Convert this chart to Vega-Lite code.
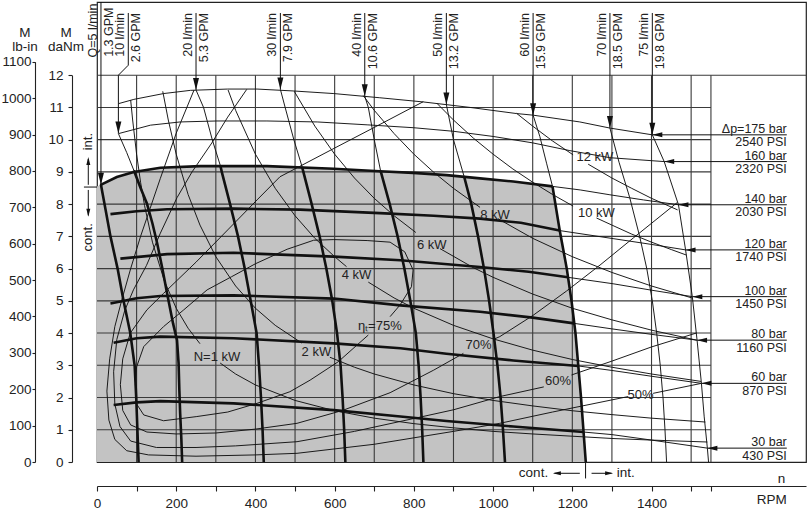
{
"$schema":"https://vega.github.io/schema/vega-lite/v6.json",
"width":709,"height":460,
"autosize":{"type":"none"},
"padding":{"left":97,"top":2,"right":6,"bottom":50},
"background":"white",
"config":{"font":"Liberation Sans","view":{"stroke":"#222","strokeWidth":1.2},
"axis":{"grid":false,"domainColor":"#222","tickColor":"#222","labelColor":"#222","labelFont":"Liberation Sans","labelFontSize":13.5,"title":null,"domainWidth":1.1,"tickWidth":1.1},
"text":{"fontSize":12.5,"color":"#222"}},
"datasets":{
"gray":[{"x":0,"y":8.55},{"x":8,"y":8.59},{"x":50,"y":8.84},{"x":93,"y":9.0},{"x":160,"y":9.13},{"x":261,"y":9.18},{"x":429,"y":9.18},{"x":598,"y":9.10},{"x":714,"y":9.02},{"x":798,"y":8.97},{"x":883,"y":8.90},{"x":967,"y":8.80},{"x":1051,"y":8.70},{"x":1150,"y":8.55},{"x":1168,"y":7.2},{"x":1186,"y":6.0},{"x":1198,"y":5.0},{"x":1208,"y":4.0},{"x":1215,"y":3.0},{"x":1222,"y":2.0},{"x":1228,"y":1.0},{"x":1234,"y":0}],
"gridV":[{"x":100,"y":0,"y2":12},{"x":200,"y":0,"y2":12},{"x":300,"y":0,"y2":12},{"x":400,"y":0,"y2":12},{"x":500,"y":0,"y2":12},{"x":600,"y":0,"y2":12},{"x":700,"y":0,"y2":12},{"x":800,"y":0,"y2":12},{"x":900,"y":0,"y2":12},{"x":1000,"y":0,"y2":12},{"x":1100,"y":0,"y2":12},{"x":1200,"y":0,"y2":12},{"x":1300,"y":0,"y2":12},{"x":1400,"y":0,"y2":12},{"x":1500,"y":0,"y2":12},{"x":1550,"y":0,"y2":12}],
"gridH":[{"x":0,"x2":1550,"y":1},{"x":0,"x2":1550,"y":2},{"x":0,"x2":1550,"y":3},{"x":0,"x2":1550,"y":4},{"x":0,"x2":1550,"y":5},{"x":0,"x2":1550,"y":6},{"x":0,"x2":1550,"y":7},{"x":0,"x2":1550,"y":8},{"x":0,"x2":1550,"y":9},{"x":0,"x2":1550,"y":10},{"x":0,"x2":1550,"y":11},{"x":0,"x2":1790,"y":12}],
"thin":[
{"c":"P175","x":55,"y":11.12},{"c":"P175","x":93,"y":11.25},{"c":"P175","x":168,"y":11.43},{"c":"P175","x":236,"y":11.53},{"c":"P175","x":330,"y":11.57},{"c":"P175","x":404,"y":11.57},{"c":"P175","x":497,"y":11.51},{"c":"P175","x":598,"y":11.43},{"c":"P175","x":714,"y":11.30},{"c":"P175","x":824,"y":11.17},{"c":"P175","x":942,"y":11.0},{"c":"P175","x":1059,"y":10.81},{"c":"P175","x":1101,"y":10.76},{"c":"P175","x":1219,"y":10.55},{"c":"P175","x":1295,"y":10.36},{"c":"P175","x":1402,"y":10.15},
{"c":"P160","x":55,"y":10.19},{"c":"P160","x":135,"y":10.45},{"c":"P160","x":210,"y":10.55},{"c":"P160","x":303,"y":10.58},{"c":"P160","x":429,"y":10.58},{"c":"P160","x":556,"y":10.55},{"c":"P160","x":682,"y":10.46},{"c":"P160","x":800,"y":10.37},{"c":"P160","x":900,"y":10.26},{"c":"P160","x":1000,"y":10.1},{"c":"P160","x":1100,"y":9.9},{"c":"P160","x":1194,"y":9.66},{"c":"P160","x":1295,"y":9.44},{"c":"P160","x":1432,"y":9.32},
{"c":"P140t","x":1150,"y":8.55},{"c":"P140t","x":1220,"y":8.44},{"c":"P140t","x":1295,"y":8.29},{"c":"P140t","x":1380,"y":8.13},{"c":"P140t","x":1468,"y":7.98},
{"c":"P120t","x":1168,"y":7.18},{"c":"P120t","x":1303,"y":6.93},{"c":"P120t","x":1400,"y":6.75},{"c":"P120t","x":1486,"y":6.58},
{"c":"P100t","x":1189,"y":5.73},{"c":"P100t","x":1303,"y":5.53},{"c":"P100t","x":1400,"y":5.33},{"c":"P100t","x":1503,"y":5.13},
{"c":"P80t","x":1205,"y":4.3},{"c":"P80t","x":1300,"y":4.13},{"c":"P80t","x":1400,"y":3.96},{"c":"P80t","x":1515,"y":3.78},
{"c":"P60t","x":1215,"y":2.98},{"c":"P60t","x":1300,"y":2.84},{"c":"P60t","x":1400,"y":2.66},{"c":"P60t","x":1526,"y":2.44},
{"c":"P30t","x":1228,"y":0.93},{"c":"P30t","x":1300,"y":0.85},{"c":"P30t","x":1400,"y":0.68},{"c":"P30t","x":1541,"y":0.43},
{"c":"Q10t","x":54,"y":10.19},{"c":"Q10t","x":75,"y":9.6},{"c":"Q10t","x":93,"y":9.05},
{"c":"Q20t","x":250,"y":11.54},{"c":"Q20t","x":269,"y":11.0},{"c":"Q20t","x":291,"y":10.0},{"c":"Q20t","x":312,"y":9.17},
{"c":"Q30t","x":463,"y":11.56},{"c":"Q30t","x":475,"y":11.0},{"c":"Q30t","x":497,"y":10.0},{"c":"Q30t","x":518,"y":9.15},
{"c":"Q40t","x":676,"y":11.35},{"c":"Q40t","x":685,"y":11.0},{"c":"Q40t","x":700,"y":10.0},{"c":"Q40t","x":716,"y":9.03},
{"c":"Q50t","x":882,"y":11.09},{"c":"Q50t","x":900,"y":10.0},{"c":"Q50t","x":927,"y":8.85},
{"c":"Q60t","x":1101,"y":10.76},{"c":"Q60t","x":1118,"y":10.1},{"c":"Q60t","x":1135,"y":9.27},{"c":"Q60t","x":1150,"y":8.55},
{"c":"Q70","x":1295,"y":10.36},{"c":"Q70","x":1318,"y":9.3},{"c":"Q70","x":1345,"y":8.2},{"c":"Q70","x":1370,"y":7.0},{"c":"Q70","x":1388,"y":6.0},{"c":"Q70","x":1402,"y":5.0},{"c":"Q70","x":1413,"y":4.0},{"c":"Q70","x":1422,"y":3.0},{"c":"Q70","x":1429,"y":2.0},{"c":"Q70","x":1434,"y":1.0},{"c":"Q70","x":1438,"y":0},
{"c":"Q75","x":1402,"y":10.15},{"c":"Q75","x":1432,"y":9.32},{"c":"Q75","x":1468,"y":7.98},{"c":"Q75","x":1486,"y":6.58},{"c":"Q75","x":1503,"y":5.13},{"c":"Q75","x":1515,"y":3.78},{"c":"Q75","x":1526,"y":2.44},{"c":"Q75","x":1533,"y":1.4},{"c":"Q75","x":1541,"y":0.43},{"c":"Q75","x":1544,"y":0},
{"c":"N1a","x":85,"y":11.23},{"c":"N1a","x":90,"y":10.61},{"c":"N1a","x":100,"y":9.55},{"c":"N1a","x":110,"y":8.68},{"c":"N1a","x":120,"y":7.96},{"c":"N1a","x":140,"y":6.82},{"c":"N1a","x":170,"y":5.62},{"c":"N1a","x":200,"y":4.77},{"c":"N1a","x":230,"y":4.15},{"c":"N1a","x":260,"y":3.67},
{"c":"N1b","x":311,"y":3.07},{"c":"N1b","x":350,"y":2.73},{"c":"N1b","x":400,"y":2.39},{"c":"N1b","x":500,"y":1.91},{"c":"N1b","x":600,"y":1.59},{"c":"N1b","x":700,"y":1.36},{"c":"N1b","x":800,"y":1.19},{"c":"N1b","x":900,"y":1.06},{"c":"N1b","x":1000,"y":0.95},{"c":"N1b","x":1100,"y":0.87},{"c":"N1b","x":1200,"y":0.80},{"c":"N1b","x":1300,"y":0.73},{"c":"N1b","x":1400,"y":0.68},{"c":"N1b","x":1541,"y":0.62},
{"c":"N2a","x":166,"y":11.5},{"c":"N2a","x":180,"y":10.61},{"c":"N2a","x":200,"y":9.55},{"c":"N2a","x":230,"y":8.30},{"c":"N2a","x":260,"y":7.35},{"c":"N2a","x":300,"y":6.37},{"c":"N2a","x":350,"y":5.46},{"c":"N2a","x":400,"y":4.77},{"c":"N2a","x":450,"y":4.24},{"c":"N2a","x":517,"y":3.69},
{"c":"N2b","x":588,"y":3.25},{"c":"N2b","x":650,"y":2.94},{"c":"N2b","x":700,"y":2.73},{"c":"N2b","x":800,"y":2.39},{"c":"N2b","x":900,"y":2.12},{"c":"N2b","x":1000,"y":1.91},{"c":"N2b","x":1100,"y":1.74},{"c":"N2b","x":1200,"y":1.59},{"c":"N2b","x":1300,"y":1.47},{"c":"N2b","x":1400,"y":1.36},{"c":"N2b","x":1536,"y":1.24},
{"c":"N4a","x":331,"y":11.54},{"c":"N4a","x":350,"y":10.91},{"c":"N4a","x":400,"y":9.55},{"c":"N4a","x":450,"y":8.49},{"c":"N4a","x":500,"y":7.64},{"c":"N4a","x":550,"y":6.94},{"c":"N4a","x":600,"y":6.37},{"c":"N4a","x":630,"y":6.06},
{"c":"N4b","x":685,"y":5.58},{"c":"N4b","x":750,"y":5.09},{"c":"N4b","x":800,"y":4.77},{"c":"N4b","x":900,"y":4.24},{"c":"N4b","x":1000,"y":3.82},{"c":"N4b","x":1100,"y":3.47},{"c":"N4b","x":1200,"y":3.18},{"c":"N4b","x":1300,"y":2.94},{"c":"N4b","x":1400,"y":2.73},{"c":"N4b","x":1525,"y":2.50},
{"c":"N6a","x":498,"y":11.5},{"c":"N6a","x":550,"y":10.42},{"c":"N6a","x":600,"y":9.55},{"c":"N6a","x":650,"y":8.81},{"c":"N6a","x":700,"y":8.18},{"c":"N6a","x":750,"y":7.64},{"c":"N6a","x":805,"y":7.12},
{"c":"N6b","x":866,"y":6.62},{"c":"N6b","x":950,"y":6.03},{"c":"N6b","x":1000,"y":5.73},{"c":"N6b","x":1100,"y":5.21},{"c":"N6b","x":1200,"y":4.77},{"c":"N6b","x":1300,"y":4.41},{"c":"N6b","x":1400,"y":4.09},{"c":"N6b","x":1514,"y":3.78},
{"c":"N8a","x":672,"y":11.37},{"c":"N8a","x":700,"y":10.91},{"c":"N8a","x":750,"y":10.19},{"c":"N8a","x":800,"y":9.55},{"c":"N8a","x":850,"y":8.99},{"c":"N8a","x":900,"y":8.49},{"c":"N8a","x":967,"y":7.90},
{"c":"N8b","x":1012,"y":7.55},{"c":"N8b","x":1100,"y":6.94},{"c":"N8b","x":1200,"y":6.37},{"c":"N8b","x":1300,"y":5.88},{"c":"N8b","x":1400,"y":5.46},{"c":"N8b","x":1502,"y":5.09},
{"c":"N10a","x":858,"y":11.13},{"c":"N10a","x":900,"y":10.61},{"c":"N10a","x":950,"y":10.05},{"c":"N10a","x":1000,"y":9.55},{"c":"N10a","x":1050,"y":9.09},{"c":"N10a","x":1100,"y":8.68},{"c":"N10a","x":1150,"y":8.30},{"c":"N10a","x":1202,"y":7.94},
{"c":"N10b","x":1261,"y":7.57},{"c":"N10b","x":1300,"y":7.35},{"c":"N10b","x":1350,"y":7.07},{"c":"N10b","x":1400,"y":6.82},{"c":"N10b","x":1450,"y":6.59},{"c":"N10b","x":1488,"y":6.42},
{"c":"N12a","x":1059,"y":10.82},{"c":"N12a","x":1100,"y":10.42},{"c":"N12a","x":1150,"y":9.96},{"c":"N12a","x":1202,"y":9.53},
{"c":"N12b","x":1240,"y":9.24},{"c":"N12b","x":1300,"y":8.81},{"c":"N12b","x":1350,"y":8.49},{"c":"N12b","x":1400,"y":8.18},{"c":"N12b","x":1466,"y":7.82},
{"c":"E75","x":740,"y":4.51},{"c":"E75","x":765,"y":4.87},{"c":"E75","x":794,"y":5.44},{"c":"E75","x":798,"y":5.96},{"c":"E75","x":777,"y":6.52},{"c":"E75","x":740,"y":6.82},{"c":"E75","x":682,"y":6.87},{"c":"E75","x":598,"y":6.90},{"c":"E75","x":547,"y":6.88},{"c":"E75","x":480,"y":6.6},{"c":"E75","x":400,"y":6.15},{"c":"E75","x":340,"y":5.75},{"c":"E75","x":278,"y":5.34},{"c":"E75","x":219,"y":4.72},{"c":"E75","x":168,"y":4.2},{"c":"E75","x":118,"y":3.58},{"c":"E75","x":100,"y":2.95},{"c":"E75","x":97,"y":2.4},{"c":"E75","x":100,"y":1.8},{"c":"E75","x":118,"y":1.46},{"c":"E75","x":168,"y":1.28},{"c":"E75","x":252,"y":1.41},{"c":"E75","x":330,"y":1.55},{"c":"E75","x":404,"y":1.82},{"c":"E75","x":487,"y":2.18},{"c":"E75","x":538,"y":2.54},{"c":"E75","x":609,"y":3.11},{"c":"E75","x":685,"y":3.94},
{"c":"E70a","x":824,"y":11.18},{"c":"E70a","x":700,"y":10.38},{"c":"E70a","x":600,"y":9.74},{"c":"E70a","x":462,"y":8.85},{"c":"E70a","x":404,"y":8.13},{"c":"E70a","x":330,"y":7.2},{"c":"E70a","x":250,"y":6.2},{"c":"E70a","x":168,"y":5.23},{"c":"E70a","x":126,"y":4.72},{"c":"E70a","x":84,"y":4.0},{"c":"E70a","x":65,"y":3.2},{"c":"E70a","x":59,"y":2.4},{"c":"E70a","x":65,"y":1.6},{"c":"E70a","x":85,"y":1.15},{"c":"E70a","x":126,"y":0.93},{"c":"E70a","x":200,"y":0.87},{"c":"E70a","x":300,"y":0.9},{"c":"E70a","x":400,"y":1.02},{"c":"E70a","x":505,"y":1.2},{"c":"E70a","x":620,"y":1.6},{"c":"E70a","x":740,"y":2.15},{"c":"E70a","x":850,"y":2.85},{"c":"E70a","x":925,"y":3.37},
{"c":"E70b","x":1000,"y":3.8},{"c":"E70b","x":1017,"y":3.89},{"c":"E70b","x":1101,"y":4.55},{"c":"E70b","x":1185,"y":5.3},{"c":"E70b","x":1270,"y":6.11},{"c":"E70b","x":1354,"y":6.95},{"c":"E70b","x":1465,"y":8.05},
{"c":"E60a","x":378,"y":11.56},{"c":"E60a","x":330,"y":10.7},{"c":"E60a","x":290,"y":9.9},{"c":"E60a","x":240,"y":9.0},{"c":"E60a","x":202,"y":8.2},{"c":"E60a","x":160,"y":7.1},{"c":"E60a","x":125,"y":6.1},{"c":"E60a","x":92,"y":5.34},{"c":"E60a","x":70,"y":4.7},{"c":"E60a","x":50,"y":3.8},{"c":"E60a","x":42,"y":2.8},{"c":"E60a","x":45,"y":1.8},{"c":"E60a","x":58,"y":1.1},{"c":"E60a","x":85,"y":0.65},{"c":"E60a","x":150,"y":0.45},{"c":"E60a","x":250,"y":0.45},{"c":"E60a","x":350,"y":0.5},{"c":"E60a","x":505,"y":0.63},{"c":"E60a","x":650,"y":0.95},{"c":"E60a","x":800,"y":1.35},{"c":"E60a","x":900,"y":1.62},{"c":"E60a","x":1017,"y":2.03},{"c":"E60a","x":1128,"y":2.33},
{"c":"E60b","x":1198,"y":2.7},{"c":"E60b","x":1300,"y":3.13},{"c":"E60b","x":1400,"y":3.57},{"c":"E60b","x":1513,"y":4.0},
{"c":"E50a","x":245,"y":11.54},{"c":"E50a","x":200,"y":10.2},{"c":"E50a","x":160,"y":8.8},{"c":"E50a","x":143,"y":8.19},{"c":"E50a","x":110,"y":7.0},{"c":"E50a","x":85,"y":6.0},{"c":"E50a","x":62,"y":5.0},{"c":"E50a","x":45,"y":4.2},{"c":"E50a","x":32,"y":3.2},{"c":"E50a","x":25,"y":2.2},{"c":"E50a","x":30,"y":1.3},{"c":"E50a","x":45,"y":0.7},{"c":"E50a","x":75,"y":0.35},{"c":"E50a","x":130,"y":0.22},{"c":"E50a","x":250,"y":0.18},{"c":"E50a","x":400,"y":0.22},{"c":"E50a","x":505,"y":0.27},{"c":"E50a","x":700,"y":0.55},{"c":"E50a","x":900,"y":0.95},{"c":"E50a","x":1017,"y":1.2},{"c":"E50a","x":1150,"y":1.55},{"c":"E50a","x":1341,"y":2.03},
{"c":"E50b","x":1404,"y":2.13},{"c":"E50b","x":1526,"y":2.44}
],
"thick":[
{"c":"P140","x":8,"y":8.59},{"c":"P140","x":50,"y":8.84},{"c":"P140","x":93,"y":9.0},{"c":"P140","x":160,"y":9.13},{"c":"P140","x":261,"y":9.18},{"c":"P140","x":429,"y":9.18},{"c":"P140","x":598,"y":9.10},{"c":"P140","x":714,"y":9.02},{"c":"P140","x":798,"y":8.97},{"c":"P140","x":883,"y":8.90},{"c":"P140","x":967,"y":8.80},{"c":"P140","x":1051,"y":8.70},{"c":"P140","x":1150,"y":8.55},
{"c":"P120","x":34,"y":7.69},{"c":"P120","x":100,"y":7.78},{"c":"P120","x":177,"y":7.84},{"c":"P120","x":345,"y":7.86},{"c":"P120","x":513,"y":7.83},{"c":"P120","x":714,"y":7.72},{"c":"P120","x":850,"y":7.64},{"c":"P120","x":967,"y":7.55},{"c":"P120","x":1070,"y":7.42},{"c":"P120","x":1168,"y":7.18},
{"c":"P100","x":59,"y":6.31},{"c":"P100","x":177,"y":6.45},{"c":"P100","x":345,"y":6.49},{"c":"P100","x":598,"y":6.37},{"c":"P100","x":766,"y":6.26},{"c":"P100","x":967,"y":6.05},{"c":"P100","x":1090,"y":5.9},{"c":"P100","x":1189,"y":5.73},
{"c":"P80","x":34,"y":4.92},{"c":"P80","x":100,"y":5.08},{"c":"P80","x":160,"y":5.15},{"c":"P80","x":345,"y":5.17},{"c":"P80","x":598,"y":5.07},{"c":"P80","x":766,"y":4.86},{"c":"P80","x":967,"y":4.66},{"c":"P80","x":1100,"y":4.48},{"c":"P80","x":1205,"y":4.3},
{"c":"P60","x":42,"y":3.70},{"c":"P60","x":100,"y":3.84},{"c":"P60","x":160,"y":3.89},{"c":"P60","x":345,"y":3.84},{"c":"P60","x":598,"y":3.68},{"c":"P60","x":766,"y":3.53},{"c":"P60","x":882,"y":3.36},{"c":"P60","x":1051,"y":3.15},{"c":"P60","x":1215,"y":2.98},
{"c":"P30","x":42,"y":1.77},{"c":"P30","x":100,"y":1.85},{"c":"P30","x":160,"y":1.89},{"c":"P30","x":345,"y":1.82},{"c":"P30","x":598,"y":1.61},{"c":"P30","x":766,"y":1.41},{"c":"P30","x":882,"y":1.27},{"c":"P30","x":1051,"y":1.1},{"c":"P30","x":1228,"y":0.93},
{"c":"Q60","x":1150,"y":8.55},{"c":"Q60","x":1168,"y":7.2},{"c":"Q60","x":1186,"y":6.0},{"c":"Q60","x":1198,"y":5.0},{"c":"Q60","x":1208,"y":4.0},{"c":"Q60","x":1215,"y":3.0},{"c":"Q60","x":1222,"y":2.0},{"c":"Q60","x":1228,"y":1.0},{"c":"Q60","x":1234,"y":0},
{"c":"Q5","x":10,"y":8.6},{"c":"Q5","x":22,"y":7.8},{"c":"Q5","x":34,"y":7.0},{"c":"Q5","x":52,"y":6.0},{"c":"Q5","x":67,"y":5.0},{"c":"Q5","x":84,"y":4.0},{"c":"Q5","x":95,"y":3.0},{"c":"Q5","x":99,"y":2.0},{"c":"Q5","x":102,"y":1.0},{"c":"Q5","x":105,"y":0},
{"c":"Q10","x":93,"y":9.05},{"c":"Q10","x":110,"y":8.5},{"c":"Q10","x":126,"y":8.02},{"c":"Q10","x":140,"y":7.4},{"c":"Q10","x":152,"y":6.78},{"c":"Q10","x":165,"y":6.0},{"c":"Q10","x":177,"y":5.23},{"c":"Q10","x":192,"y":4.3},{"c":"Q10","x":202,"y":3.78},{"c":"Q10","x":206,"y":3.06},{"c":"Q10","x":208,"y":2.2},{"c":"Q10","x":210,"y":1.5},{"c":"Q10","x":213,"y":0.7},{"c":"Q10","x":215,"y":0},
{"c":"Q20","x":312,"y":9.17},{"c":"Q20","x":315,"y":9.0},{"c":"Q20","x":336,"y":8},{"c":"Q20","x":356,"y":7},{"c":"Q20","x":373,"y":6},{"c":"Q20","x":388,"y":5},{"c":"Q20","x":403,"y":4},{"c":"Q20","x":409,"y":3},{"c":"Q20","x":414,"y":2},{"c":"Q20","x":418,"y":1},{"c":"Q20","x":421,"y":0},
{"c":"Q30","x":518,"y":9.15},{"c":"Q30","x":521,"y":9},{"c":"Q30","x":542,"y":8},{"c":"Q30","x":562,"y":7},{"c":"Q30","x":579,"y":6},{"c":"Q30","x":594,"y":5},{"c":"Q30","x":606,"y":4},{"c":"Q30","x":615,"y":3},{"c":"Q30","x":620,"y":2},{"c":"Q30","x":624,"y":1},{"c":"Q30","x":627,"y":0},
{"c":"Q40","x":716,"y":9.03},{"c":"Q40","x":739,"y":8},{"c":"Q40","x":759,"y":7},{"c":"Q40","x":776,"y":6},{"c":"Q40","x":791,"y":5},{"c":"Q40","x":805,"y":4},{"c":"Q40","x":812,"y":3},{"c":"Q40","x":817,"y":2},{"c":"Q40","x":821,"y":1},{"c":"Q40","x":824,"y":0},
{"c":"Q50","x":927,"y":8.85},{"c":"Q50","x":945,"y":8},{"c":"Q50","x":962,"y":7},{"c":"Q50","x":977,"y":6},{"c":"Q50","x":990,"y":5},{"c":"Q50","x":1001,"y":4},{"c":"Q50","x":1011,"y":3},{"c":"Q50","x":1019,"y":2},{"c":"Q50","x":1025,"y":1},{"c":"Q50","x":1030,"y":0}
],
"leaders":[
{"c":"LQ5","x":10,"y":14.27},{"c":"LQ5","x":10,"y":8.6},
{"c":"LQ10","x":79,"y":13.93},{"c":"LQ10","x":79,"y":12.31},{"c":"LQ10","x":54,"y":12.0},{"c":"LQ10","x":54,"y":10.19},
{"c":"LQ20","x":250,"y":13.93},{"c":"LQ20","x":250,"y":11.54},
{"c":"LQ30","x":463,"y":13.93},{"c":"LQ30","x":463,"y":11.56},
{"c":"LQ40","x":676,"y":13.93},{"c":"LQ40","x":676,"y":11.35},
{"c":"LQ50","x":882,"y":13.93},{"c":"LQ50","x":882,"y":11.09},
{"c":"LQ60","x":1101,"y":13.93},{"c":"LQ60","x":1101,"y":10.76},
{"c":"LQ70","x":1295,"y":13.93},{"c":"LQ70","x":1295,"y":10.36},
{"c":"LQ75","x":1402,"y":13.93},{"c":"LQ75","x":1402,"y":10.15},
{"c":"LP175","x":1402,"y":10.15},{"c":"LP175","x":1741.5,"y":10.15},
{"c":"LP160","x":1432,"y":9.32},{"c":"LP160","x":1741.5,"y":9.32},
{"c":"LP140","x":1468,"y":7.98},{"c":"LP140","x":1741.5,"y":7.98},
{"c":"LP120","x":1486,"y":6.58},{"c":"LP120","x":1741.5,"y":6.58},
{"c":"LP100","x":1503,"y":5.13},{"c":"LP100","x":1741.5,"y":5.13},
{"c":"LP80","x":1515,"y":3.78},{"c":"LP80","x":1741.5,"y":3.78},
{"c":"LP60","x":1526,"y":2.44},{"c":"LP60","x":1741.5,"y":2.44},
{"c":"LP30","x":1541,"y":0.43},{"c":"LP30","x":1741.5,"y":0.43},
{"c":"Lt1","x":-33,"y":8.53},{"c":"Lt1","x":0,"y":8.53},
{"c":"Lup","x":-22,"y":8.6},{"c":"Lup","x":-22,"y":9.4},
{"c":"Ldn","x":-22,"y":8.44},{"c":"Ldn","x":-22,"y":7.65},
{"c":"Lbt","x":1233.5,"y":0},{"c":"Lbt","x":1233.5,"y":-0.51},
{"c":"Lbl","x":1219,"y":-0.35},{"c":"Lbl","x":1155,"y":-0.35},
{"c":"Lbr","x":1248.6,"y":-0.35},{"c":"Lbr","x":1299,"y":-0.35}
],
"arrDown":[{"x":10,"y":8.6},{"x":54,"y":10.19},{"x":250,"y":11.54},{"x":463,"y":11.56},{"x":676,"y":11.35},{"x":882,"y":11.09},{"x":1101,"y":10.76},{"x":1295,"y":10.36},{"x":1402,"y":10.15}],
"arrLeft":[{"x":1402,"y":10.15},{"x":1432,"y":9.32},{"x":1468,"y":7.98},{"x":1486,"y":6.58},{"x":1503,"y":5.13},{"x":1515,"y":3.78},{"x":1526,"y":2.44},{"x":1541,"y":0.43}],
"arrSmallLeft":[{"x":1151,"y":-0.35}],
"arrSmallRight":[{"x":1303,"y":-0.35}],
"arrSmallUp":[{"x":-22,"y":9.46}],
"arrSmallDown":[{"x":-22,"y":7.61}],
"flowA":[{"x":10,"y":14.22,"t":"Q=5 l/min"},{"x":79,"y":13.93,"t":"10 l/min"},{"x":250,"y":13.93,"t":"20 l/min"},{"x":463,"y":13.93,"t":"30 l/min"},{"x":676,"y":13.93,"t":"40 l/min"},{"x":882,"y":13.93,"t":"50 l/min"},{"x":1101,"y":13.93,"t":"60 l/min"},{"x":1295,"y":13.93,"t":"70 l/min"},{"x":1402,"y":13.93,"t":"75 l/min"}],
"flowB":[{"x":10,"y":14.1,"t":"1.3 GPM"},{"x":79,"y":13.93,"t":"2.6 GPM"},{"x":250,"y":13.93,"t":"5.3 GPM"},{"x":463,"y":13.93,"t":"7.9 GPM"},{"x":676,"y":13.93,"t":"10.6 GPM"},{"x":882,"y":13.93,"t":"13.2 GPM"},{"x":1101,"y":13.93,"t":"15.9 GPM"},{"x":1295,"y":13.93,"t":"18.5 GPM"},{"x":1402,"y":13.93,"t":"19.8 GPM"}],
"pressA":[{"x":1741.5,"y":10.15,"t":"Δp=175 bar"},{"x":1741.5,"y":9.32,"t":"160 bar"},{"x":1741.5,"y":7.98,"t":"140 bar"},{"x":1741.5,"y":6.58,"t":"120 bar"},{"x":1741.5,"y":5.13,"t":"100 bar"},{"x":1741.5,"y":3.78,"t":"80 bar"},{"x":1741.5,"y":2.44,"t":"60 bar"},{"x":1741.5,"y":0.43,"t":"30 bar"}],
"pressB":[{"x":1741.5,"y":10.15,"t":"2540 PSI"},{"x":1741.5,"y":9.32,"t":"2320 PSI"},{"x":1741.5,"y":7.98,"t":"2030 PSI"},{"x":1741.5,"y":6.58,"t":"1740 PSI"},{"x":1741.5,"y":5.13,"t":"1450 PSI"},{"x":1741.5,"y":3.78,"t":"1160 PSI"},{"x":1741.5,"y":2.44,"t":"870 PSI"},{"x":1741.5,"y":0.43,"t":"430 PSI"}],
"labels":[{"x":303,"y":3.27,"t":"N=1 kW"},{"x":554,"y":3.42,"t":"2 kW"},{"x":655,"y":5.8,"t":"4 kW"},{"x":845,"y":6.73,"t":"6 kW"},{"x":1005,"y":7.66,"t":"8 kW"},{"x":1261,"y":7.74,"t":"10 kW"},{"x":1257,"y":9.45,"t":"12 kW"},{"x":714,"y":4.22,"t":"ηₜ=75%"},{"x":963,"y":3.63,"t":"70%"},{"x":1164,"y":2.51,"t":"60%"},{"x":1372,"y":2.08,"t":"50%"}],
"miscC":[{"x":-182,"y":13.31,"t":"M"},{"x":-182,"y":12.86,"t":"lb-in"},{"x":-78,"y":13.31,"t":"M"},{"x":-78,"y":12.86,"t":"daNm"},{"x":1728,"y":-0.53,"t":"n"}],
"miscR":[{"x":1741.5,"y":-1.18,"t":"RPM"},{"x":1139,"y":-0.33,"t":"cont."}],
"miscL":[{"x":1312,"y":-0.33,"t":"int."}],
"miscRot":[{"x":-22,"y":9.94,"t":"int."},{"x":-22,"y":6.97,"t":"cont."}]
},
"layer":[
{
"encoding":{
"x":{"field":"x","type":"quantitative","scale":{"domain":[0,1790],"nice":false,"zero":false},
"axis":{"orient":"bottom","offset":24,"values":[0,100,200,300,400,500,600,700,800,900,1000,1100,1200,1300,1400,1500,1550],"format":"d","labelExpr":"datum.value % 200 === 0 && datum.value <= 1400 ? datum.label : ''","tickSize":5,"labelPadding":5,"labelOverlap":false,"labelFlush":false}},
"y":{"field":"y","type":"quantitative","scale":{"domain":[0,12],"range":[460,73.2],"nice":false,"zero":false},
"axis":{"orient":"left","offset":25,"values":[0,1,2,3,4,5,6,7,8,9,10,11,12],"format":"d","tickSize":4,"labelPadding":5,"labelOverlap":false,"labelFlush":false}}
},
"layer":[
{"data":{"name":"gray"},"mark":{"type":"area","color":"#c3c3c3","opacity":1},"encoding":{"y2":{"datum":0}}},
{"data":{"name":"gridV"},"mark":{"type":"rule","color":"#3a3a3a","strokeWidth":1.1},"encoding":{"y2":{"field":"y2"}}},
{"data":{"name":"gridH"},"mark":{"type":"rule","color":"#3a3a3a","strokeWidth":1.1},"encoding":{"x2":{"field":"x2"}}},
{"data":{"name":"thin"},"mark":{"type":"line","color":"#111","strokeWidth":0.95},"encoding":{"detail":{"field":"c"},"order":{"value":null}}},
{"data":{"name":"thick"},"mark":{"type":"line","color":"#111","strokeWidth":2.6},"encoding":{"detail":{"field":"c"},"order":{"value":null}}},
{"data":{"name":"leaders"},"mark":{"type":"line","color":"#111","strokeWidth":1},"encoding":{"detail":{"field":"c"},"order":{"value":null}}},
{"data":{"name":"arrDown"},"mark":{"type":"point","shape":"M0,0L-0.5,-2L0.5,-2Z","filled":true,"size":144,"color":"#111","opacity":1}},
{"data":{"name":"arrLeft"},"mark":{"type":"point","shape":"M0,0L2,-0.5L2,0.5Z","filled":true,"size":100,"color":"#111","opacity":1}},
{"data":{"name":"arrSmallLeft"},"mark":{"type":"point","shape":"M0,0L2,-0.5L2,0.5Z","filled":true,"size":64,"color":"#111","opacity":1}},
{"data":{"name":"arrSmallRight"},"mark":{"type":"point","shape":"M0,0L-2,-0.5L-2,0.5Z","filled":true,"size":64,"color":"#111","opacity":1}},
{"data":{"name":"arrSmallUp"},"mark":{"type":"point","shape":"M0,0L-0.5,2L0.5,2Z","filled":true,"size":64,"color":"#111","opacity":1}},
{"data":{"name":"arrSmallDown"},"mark":{"type":"point","shape":"M0,0L-0.5,-2L0.5,-2Z","filled":true,"size":64,"color":"#111","opacity":1}},
{"data":{"name":"flowA"},"mark":{"type":"text","angle":270,"align":"right","baseline":"bottom","dy":-1},"encoding":{"text":{"field":"t"}}},
{"data":{"name":"flowB"},"mark":{"type":"text","angle":270,"align":"right","baseline":"top","dy":2},"encoding":{"text":{"field":"t"}}},
{"data":{"name":"pressA"},"mark":{"type":"text","align":"right","baseline":"alphabetic","dy":-2,"fontSize":12.5},"encoding":{"text":{"field":"t"}}},
{"data":{"name":"pressB"},"mark":{"type":"text","align":"right","baseline":"top","dy":1.5,"fontSize":12.5},"encoding":{"text":{"field":"t"}}},
{"data":{"name":"labels"},"mark":{"type":"text","align":"center","baseline":"middle","fontSize":13},"encoding":{"text":{"field":"t"}}},
{"data":{"name":"miscC"},"mark":{"type":"text","align":"center","baseline":"middle","fontSize":13.5},"encoding":{"text":{"field":"t"}}},
{"data":{"name":"miscR"},"mark":{"type":"text","align":"right","baseline":"middle","fontSize":13.5},"encoding":{"text":{"field":"t"}}},
{"data":{"name":"miscL"},"mark":{"type":"text","align":"left","baseline":"middle","fontSize":13.5},"encoding":{"text":{"field":"t"}}},
{"data":{"name":"miscRot"},"mark":{"type":"text","angle":270,"align":"center","baseline":"middle","fontSize":13},"encoding":{"text":{"field":"t"}}}
]
},
{
"data":{"values":[{"lb":0}]},
"mark":{"type":"point","opacity":0},
"encoding":{"y":{"field":"lb","type":"quantitative","scale":{"domain":[0,1100],"range":[460,59.8],"nice":false,"zero":false},
"axis":{"orient":"left","offset":62,"values":[0,100,200,300,400,500,600,700,800,900,1000,1100],"format":"d","tickSize":3,"labelPadding":1,"labelOverlap":false,"labelFlush":false}}}
}
],
"resolve":{"scale":{"y":"independent"}}
}
